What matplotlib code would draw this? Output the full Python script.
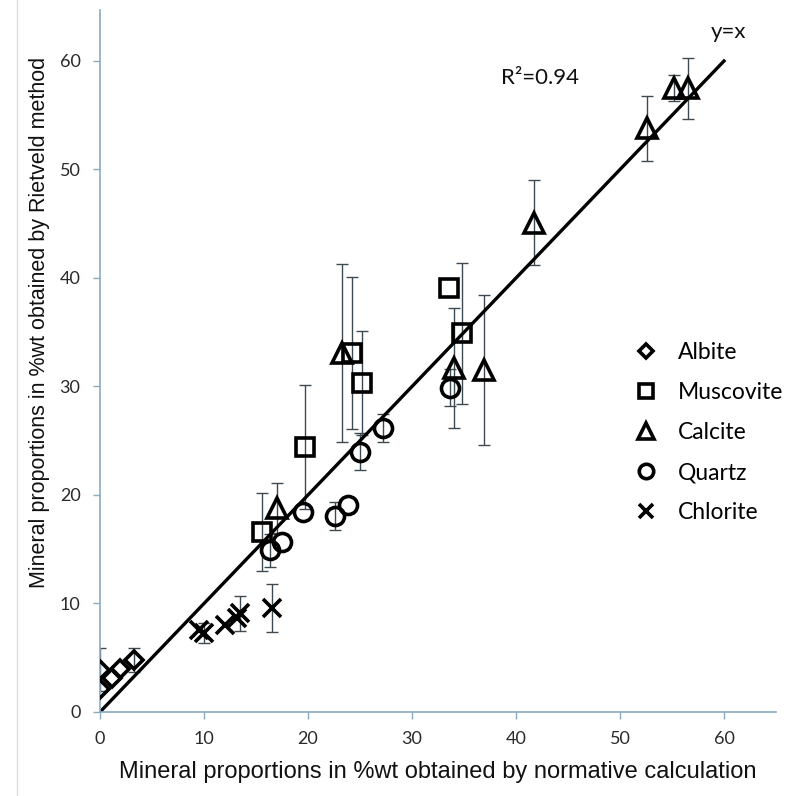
import numpy as np
import matplotlib
matplotlib.use("Agg")
import matplotlib.pyplot as plt
from matplotlib.lines import Line2D

# ---------------- data ----------------
albite_x = [0.0, 0.0, 1.2, 1.9, 3.3]
albite_y = [3.9, 2.1, 3.1, 4.0, 4.8]
albite_err = [2.0, np.nan, np.nan, np.nan, 1.1]

muscovite_x = [15.6, 19.7, 24.2, 25.2, 33.6, 34.8]
muscovite_y = [16.6, 24.4, 33.1, 30.3, 39.1, 34.9]
muscovite_err = [3.6, 5.7, 7.0, 4.8, np.nan, 6.5]

calcite_x = [17.0, 23.3, 34.0, 36.9, 41.7, 52.6, 55.2, 56.5]
calcite_y = [18.8, 33.1, 31.7, 31.5, 45.1, 53.8, 57.5, 57.5]
calcite_err = [2.3, 8.2, 5.5, 6.9, 3.9, 3.0, 1.2, 2.8]

quartz_x = [16.3, 17.5, 19.5, 22.6, 23.8, 25.0, 27.2, 33.7]
quartz_y = [14.9, 15.7, 18.4, 18.1, 19.1, 24.0, 26.2, 29.9]
quartz_err = [1.5, np.nan, np.nan, 1.3, np.nan, 1.7, 1.3, 1.7]

chlorite_x = [9.5, 10.0, 12.0, 13.2, 13.5, 16.5]
chlorite_y = [7.6, 7.3, 8.0, 8.7, 9.1, 9.6]
chlorite_err = [np.nan, 0.9, np.nan, np.nan, 1.6, 2.2]

identity_x = [0, 60]
identity_y = [0, 60]

x_ticks = [0, 10, 20, 30, 40, 50, 60]
y_ticks = [0, 10, 20, 30, 40, 50, 60]

r2_label = "R\u00b2=0.94"
line_label = "y=x"
x_title = "Mineral proportions in %wt obtained by normative calculation"
y_title = "Mineral proportions in %wt obtained by Rietveld method"

# ---------------- figure ----------------
W, H = 790, 796
fig = plt.figure(figsize=(W / 100, H / 100), dpi=100)
ax_l, ax_r, ax_b, ax_t = 100, 776, 712, 10
ax = fig.add_axes([ax_l / W, 1 - ax_b / H, (ax_r - ax_l) / W, (ax_b - ax_t) / H])

axis_col = "#8aaabd"
err_col = "#3e4a52"
mk_lw = 2.6
txt_font = ["Lato", "DejaVu Sans"]
lab_font = ["Liberation Sans", "DejaVu Sans"]

ax.plot(identity_x, identity_y, color="black", lw=2.4, zorder=2)

series = [
    ("Albite", albite_x, albite_y, albite_err, "D", 9),
    ("Muscovite", muscovite_x, muscovite_y, muscovite_err, "s", 13),
    ("Calcite", calcite_x, calcite_y, calcite_err, "^", 14.5),
    ("Quartz", quartz_x, quartz_y, quartz_err, "o", 13),
    ("Chlorite", chlorite_x, chlorite_y, chlorite_err, "x", 13),
]

for name, xs, ys, es, mk, ms in series:
    ax.errorbar(xs, ys, yerr=es, fmt="none", ecolor=err_col, elinewidth=1.0,
                capsize=4.5, capthick=1.0, zorder=1)
    ax.plot(xs, ys, linestyle="none", marker=mk, markersize=ms,
            markerfacecolor="none", markeredgecolor="black",
            markeredgewidth=mk_lw, zorder=3, label=name)

ax.set_xlim(0, 65)
ax.set_ylim(0, 64.7)
ax.set_xticks(x_ticks)
ax.set_yticks(y_ticks)

for s in ["top", "right"]:
    ax.spines[s].set_visible(False)
for s in ["left", "bottom"]:
    ax.spines[s].set_color(axis_col)
    ax.spines[s].set_linewidth(1.2)
ax.tick_params(axis="both", colors=axis_col, length=5, width=1.0, direction="out",
               labelcolor="#2a2a2a", labelsize=13)
for lab in ax.get_xticklabels() + ax.get_yticklabels():
    lab.set_fontfamily(txt_font)
ax.tick_params(axis="x", pad=9)
ax.tick_params(axis="y", pad=9)

ax.set_xlabel(x_title, fontsize=17, family=lab_font, color="#111111", labelpad=10)
ax.set_ylabel(y_title, fontsize=15.5, family=lab_font, color="#111111")
ax.yaxis.label.set_verticalalignment("center")
ax.yaxis.set_label_coords((40 - ax_l) / (ax_r - ax_l), (ax_b - 322) / (ax_b - ax_t))

ax.annotate(r2_label, xy=(540 / W, 1 - 78 / H), xycoords="figure fraction",
            ha="center", va="center", fontsize=16, family=txt_font, color="#111111")
ax.annotate(line_label, xy=(729 / W, 1 - 32 / H), xycoords="figure fraction",
            ha="center", va="center", fontsize=16, family=txt_font, color="#111111")

leg = ax.legend(loc="upper left", bbox_to_anchor=(632 / W, 1 - 342 / H),
                bbox_transform=fig.transFigure, frameon=False,
                prop={"family": txt_font, "size": 16.5}, markerscale=0.8,
                handlelength=1.2, handletextpad=0.8, labelspacing=0.83,
                borderaxespad=0, borderpad=0)

fig.add_artist(Line2D([17 / W, 17 / W], [0, 1], transform=fig.transFigure,
                      color="#e3dada", lw=1.0))

fig.savefig("out.png", dpi=100)
